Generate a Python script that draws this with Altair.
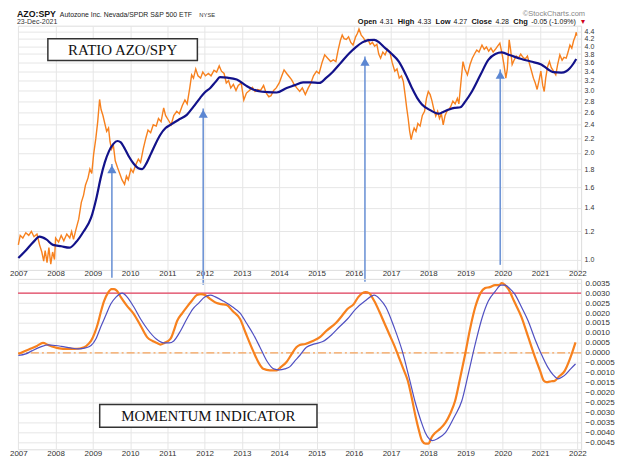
import altair as alt
import pandas as pd

# ---------------- data ----------------
ratio_year = [2007.00, 2007.05, 2007.12, 2007.20, 2007.28, 2007.35, 2007.42, 2007.50, 2007.57, 2007.63,
              2007.68, 2007.72, 2007.77, 2007.82, 2007.87, 2007.92, 2007.97, 2008.00, 2008.08, 2008.15,
              2008.22, 2008.30, 2008.38, 2008.43, 2008.48, 2008.55, 2008.62, 2008.69, 2008.75, 2008.80,
              2008.87, 2008.92, 2008.97, 2009.02, 2009.08, 2009.13, 2009.18, 2009.22, 2009.27, 2009.32,
              2009.37, 2009.42, 2009.46, 2009.50, 2009.55, 2009.60, 2009.66, 2009.72, 2009.78, 2009.85,
              2009.90, 2009.95, 2010.02, 2010.08, 2010.15, 2010.22, 2010.28, 2010.35, 2010.42, 2010.48,
              2010.55, 2010.62, 2010.70, 2010.76, 2010.83, 2010.90, 2010.95, 2011.02, 2011.10, 2011.17,
              2011.25, 2011.32, 2011.40, 2011.47, 2011.53, 2011.60, 2011.65, 2011.70, 2011.76, 2011.82,
              2011.89, 2011.95, 2012.02, 2012.10, 2012.17, 2012.25, 2012.32, 2012.39, 2012.45, 2012.52,
              2012.58, 2012.64, 2012.70, 2012.77, 2012.84, 2012.90, 2012.98, 2013.05, 2013.12, 2013.20,
              2013.28, 2013.35, 2013.42, 2013.50, 2013.58, 2013.65, 2013.72, 2013.78, 2013.85, 2013.92,
              2014.00, 2014.07, 2014.13, 2014.20, 2014.27, 2014.33, 2014.40, 2014.47, 2014.55, 2014.62,
              2014.70, 2014.78, 2014.85, 2014.92, 2015.00, 2015.07, 2015.15, 2015.22, 2015.30, 2015.38,
              2015.45, 2015.52, 2015.58, 2015.64, 2015.69, 2015.74, 2015.80, 2015.86, 2015.92, 2015.98,
              2016.05, 2016.10, 2016.14, 2016.20, 2016.26, 2016.32, 2016.38, 2016.44, 2016.50, 2016.56,
              2016.62, 2016.67, 2016.72, 2016.78, 2016.84, 2016.90, 2016.97, 2017.03, 2017.10, 2017.16,
              2017.22, 2017.28, 2017.33, 2017.38, 2017.42, 2017.46, 2017.50, 2017.54, 2017.58, 2017.62,
              2017.67, 2017.72, 2017.78, 2017.84, 2017.90, 2017.95, 2018.00, 2018.05, 2018.10, 2018.15,
              2018.20, 2018.25, 2018.30, 2018.35, 2018.40, 2018.45, 2018.50, 2018.55, 2018.60, 2018.66,
              2018.72, 2018.78, 2018.82, 2018.88, 2018.93, 2018.98, 2019.05, 2019.12, 2019.18, 2019.25,
              2019.30, 2019.36, 2019.44, 2019.50, 2019.56, 2019.62, 2019.68, 2019.74, 2019.80, 2019.86,
              2019.92, 2019.98, 2020.03, 2020.08, 2020.12, 2020.17, 2020.21, 2020.25, 2020.30, 2020.36,
              2020.42, 2020.48, 2020.54, 2020.60, 2020.66, 2020.72, 2020.77, 2020.82, 2020.87, 2020.92,
              2020.97, 2021.02, 2021.07, 2021.11, 2021.15, 2021.20, 2021.25, 2021.30, 2021.36, 2021.42,
              2021.47, 2021.53, 2021.59, 2021.64, 2021.70, 2021.75, 2021.80, 2021.85, 2021.90, 2021.94,
              2021.97, 2021.98]
ratio_val = [1.10, 1.17, 1.15, 1.19, 1.17, 1.20, 1.16, 1.18, 1.10, 1.05,
             0.99, 1.06, 0.98, 1.08, 0.97, 1.05, 1.00, 1.15, 1.12, 1.17,
             1.13, 1.18, 1.15, 1.20, 1.14, 1.22, 1.30, 1.45, 1.52, 1.62,
             1.70, 1.80, 1.75, 1.98, 2.20, 2.45, 2.83, 2.65, 2.55, 2.42,
             2.30, 2.35, 2.15, 2.05, 2.10, 1.90, 1.82, 1.75, 1.68, 1.63,
             1.72, 1.68, 1.80, 1.76, 1.85, 1.92, 1.88, 2.05, 2.20, 2.32,
             2.28, 2.40, 2.38, 2.50, 2.45, 2.68, 2.55, 2.48, 2.40, 2.55,
             2.62, 2.58, 2.72, 2.82, 2.75, 3.05, 3.32, 3.25, 3.45, 3.30,
             3.25, 3.38, 3.30, 3.35, 3.30, 3.42, 3.38, 3.52, 3.40, 3.35,
             3.15, 3.20, 3.05, 3.12, 3.00, 3.10, 3.15, 2.82, 2.95, 3.00,
             3.06, 2.98, 3.02, 3.00, 3.10, 2.95, 2.88, 2.90, 3.00, 3.05,
             3.15, 3.30, 3.43, 3.35, 3.28, 3.22, 3.12, 3.05, 2.98, 3.05,
             2.92, 3.05, 3.15, 3.30, 3.40, 3.35, 3.60, 3.78, 3.70, 3.62,
             3.66, 3.62, 3.90, 4.15, 4.30, 4.20, 4.18, 4.25, 4.10, 4.03,
             4.25, 4.35, 4.47, 4.30, 4.22, 4.12, 4.18, 4.05, 4.10, 4.00,
             4.05, 3.80, 3.70, 3.85, 3.78, 3.92, 3.85, 3.60, 3.40, 3.45,
             3.25, 3.30, 3.18, 2.90, 2.68, 2.50, 2.30, 2.18, 2.28, 2.35,
             2.30, 2.42, 2.38, 2.55, 2.62, 2.85, 2.98, 2.92, 2.80, 2.65,
             2.54, 2.62, 2.50, 2.58, 2.40, 2.55, 2.62, 2.65, 2.70, 2.80,
             2.75, 2.85, 2.75, 3.20, 3.62, 3.45, 3.32, 3.55, 3.70, 3.82,
             3.90, 3.85, 4.03, 3.92, 3.98, 3.87, 3.95, 3.85, 3.92, 4.00,
             4.08, 3.80, 3.55, 3.25, 3.45, 4.17, 3.90, 3.55, 3.65, 3.75,
             3.70, 3.80, 3.72, 3.68, 3.75, 3.55, 3.40, 3.25, 3.15, 3.02,
             3.20, 3.40, 3.10, 2.98, 3.25, 3.50, 3.62, 3.48, 3.40, 3.32,
             3.55, 3.78, 3.65, 3.72, 3.70, 3.85, 4.03, 3.95, 4.15, 4.25,
             4.38, 4.28]

ma_year = [2007.00, 2007.20, 2007.40, 2007.57, 2007.75, 2007.93, 2008.15, 2008.37, 2008.55, 2008.75,
           2008.95, 2009.10, 2009.21, 2009.32, 2009.43, 2009.55, 2009.66, 2009.75, 2009.84, 2009.97,
           2010.10, 2010.22, 2010.32, 2010.45, 2010.55, 2010.68, 2010.81, 2010.95, 2011.08, 2011.30,
           2011.52, 2011.70, 2011.88, 2012.00, 2012.15, 2012.30, 2012.41, 2012.60, 2012.86, 2013.10,
           2013.30, 2013.50, 2013.66, 2013.93, 2014.20, 2014.40, 2014.64, 2014.85, 2015.08, 2015.25,
           2015.44, 2015.66, 2015.88, 2016.05, 2016.23, 2016.40, 2016.55, 2016.68, 2016.81, 2017.00,
           2017.21, 2017.40, 2017.56, 2017.70, 2017.83, 2018.05, 2018.28, 2018.40, 2018.55, 2018.70,
           2018.86, 2019.00, 2019.17, 2019.40, 2019.61, 2019.80, 2019.97, 2020.20, 2020.50, 2020.75,
           2021.03, 2021.20, 2021.35, 2021.57, 2021.70, 2021.79, 2021.90, 2021.97]
ma_val = [1.01, 1.06, 1.12, 1.16, 1.14, 1.10, 1.09, 1.08, 1.12, 1.20,
          1.31, 1.50, 1.70, 1.88, 2.02, 2.12, 2.16, 2.14, 2.07, 1.95,
          1.86, 1.81, 1.80, 1.88, 1.98, 2.12, 2.25, 2.35, 2.40, 2.48,
          2.56, 2.70, 2.86, 2.96, 3.05, 3.18, 3.27, 3.26, 3.22, 3.10,
          3.02, 2.98, 2.97, 2.96, 3.05, 3.10, 3.16, 3.16, 3.15, 3.25,
          3.39, 3.60, 3.82, 3.97, 4.10, 4.16, 4.17, 4.10, 3.98, 3.82,
          3.62, 3.32, 3.05, 2.86, 2.74, 2.64, 2.58, 2.61, 2.65, 2.68,
          2.69, 2.80, 2.98, 3.32, 3.66, 3.80, 3.84, 3.77, 3.68, 3.62,
          3.55, 3.45, 3.38, 3.37, 3.40, 3.46, 3.58, 3.68]

mom_year = [2007.00, 2007.18, 2007.36, 2007.50, 2007.66, 2007.80, 2007.95, 2008.10, 2008.30, 2008.50,
            2008.65, 2008.77, 2008.88, 2008.95, 2009.05, 2009.13, 2009.22, 2009.30, 2009.40, 2009.50,
            2009.57, 2009.65, 2009.75, 2009.90, 2010.10, 2010.30, 2010.46, 2010.60, 2010.72, 2010.81,
            2010.92, 2011.08, 2011.17, 2011.26, 2011.40, 2011.52, 2011.65, 2011.79, 2011.90, 2012.01,
            2012.15, 2012.32, 2012.45, 2012.59, 2012.75, 2012.95, 2013.10, 2013.30, 2013.45, 2013.57,
            2013.75, 2013.93, 2014.05, 2014.19, 2014.32, 2014.46, 2014.55, 2014.70, 2014.90, 2015.10,
            2015.26, 2015.52, 2015.70, 2015.83, 2016.00, 2016.12, 2016.23, 2016.32, 2016.41, 2016.55,
            2016.68, 2016.82, 2016.95, 2017.08, 2017.21, 2017.33, 2017.45, 2017.55, 2017.66, 2017.75,
            2017.83, 2017.92, 2018.00, 2018.10, 2018.19, 2018.32, 2018.46, 2018.60, 2018.72, 2018.85,
            2018.99, 2019.12, 2019.26, 2019.40, 2019.52, 2019.65, 2019.79, 2019.90, 2019.97, 2020.06,
            2020.15, 2020.30, 2020.50, 2020.68, 2020.86, 2021.00, 2021.10, 2021.17, 2021.30, 2021.39,
            2021.50, 2021.66, 2021.80, 2021.95]
mom_val = [-0.00005, 0.0001, 0.00023, 0.00035, 0.0005, 0.0004, 0.0003, 0.00023, 0.0002, 0.0002,
           0.00022, 0.00028, 0.00045, 0.0006, 0.0010, 0.00145, 0.0021, 0.0026, 0.0030, 0.0032,
           0.0032, 0.0031, 0.0028, 0.0024, 0.00195, 0.0013, 0.00078, 0.0006, 0.0005, 0.00042,
           0.0005, 0.0007, 0.0011, 0.0016, 0.0020, 0.0023, 0.0026, 0.0029, 0.00295, 0.0029,
           0.0027, 0.0025, 0.00245, 0.0024, 0.0021, 0.0017, 0.0010, 0.0001, -0.0005, -0.0008,
           -0.00088, -0.00088, -0.0007, -0.00047, -0.0001, 0.00028, 0.0004, 0.00045, 0.0006, 0.0008,
           0.0011, 0.0015, 0.0019, 0.0022, 0.00245, 0.0028, 0.0030, 0.00305, 0.0030, 0.0026,
           0.0021, 0.0015, 0.00095, 0.0004, -0.00022, -0.0008, -0.0014, -0.0022, -0.0032, -0.0039,
           -0.0044, -0.00455, -0.00455, -0.0042, -0.0040, -0.0038, -0.0035, -0.0030, -0.0024, -0.0013,
           -0.00005, 0.0012, 0.0023, 0.0030, 0.00325, 0.0033, 0.0034, 0.0034, 0.0035, 0.0034,
           0.0032, 0.0026, 0.0018, 0.0008, -0.0002, -0.0009, -0.0014, -0.00147, -0.00142, -0.0014,
           -0.0012, -0.0009, -0.0003, 0.00053]

sig_year = [2007.00, 2007.20, 2007.36, 2007.60, 2007.80, 2008.00, 2008.15, 2008.40, 2008.60, 2008.80,
            2008.95, 2009.08, 2009.21, 2009.35, 2009.48, 2009.62, 2009.79, 2009.92, 2010.10, 2010.28,
            2010.46, 2010.70, 2010.90, 2011.05, 2011.17, 2011.35, 2011.52, 2011.68, 2011.84, 2012.00,
            2012.15, 2012.30, 2012.50, 2012.75, 2012.95, 2013.12, 2013.30, 2013.48, 2013.66, 2013.85,
            2014.01, 2014.15, 2014.28, 2014.42, 2014.55, 2014.73, 2014.95, 2015.17, 2015.40, 2015.61,
            2015.83, 2016.05, 2016.30, 2016.55, 2016.70, 2016.86, 2017.08, 2017.30, 2017.48, 2017.66,
            2017.80, 2017.92, 2018.02, 2018.10, 2018.25, 2018.46, 2018.70, 2018.90, 2019.08, 2019.26,
            2019.45, 2019.61, 2019.80, 2019.95, 2020.06, 2020.20, 2020.32, 2020.50, 2020.68, 2020.86,
            2021.03, 2021.20, 2021.35, 2021.48, 2021.60, 2021.70, 2021.82, 2021.95]
sig_val = [-0.00013, -0.00005, 0.0001, 0.0003, 0.0004, 0.00037, 0.00033, 0.00025, 0.0002, 0.00025,
           0.00037, 0.0007, 0.0013, 0.0019, 0.00245, 0.0028, 0.0030, 0.0028, 0.0023, 0.0017,
           0.0012, 0.0007, 0.0005, 0.0005, 0.0006, 0.0011, 0.0017, 0.0022, 0.0025, 0.0028,
           0.0029, 0.0028, 0.0026, 0.0023, 0.0020, 0.0015, 0.00095, 0.0003, -0.00038, -0.0008,
           -0.00085, -0.0008, -0.0007, -0.0004, -0.00013, 0.00028, 0.00045, 0.00057, 0.0009, 0.0013,
           0.0017, 0.0022, 0.0026, 0.0029, 0.0027, 0.0023, 0.0013, 0.0001, -0.0012, -0.00255,
           -0.0034, -0.0040, -0.0043, -0.0044, -0.0043, -0.0040, -0.0032, -0.0024, -0.0010, 0.00045,
           0.0018, 0.0026, 0.0031, 0.0034, 0.0034, 0.0032, 0.00295, 0.0023, 0.0016, 0.0007,
           -0.00005, -0.0007, -0.0011, -0.0013, -0.0012, -0.00105, -0.0008, -0.00055]

# annotation arrows (date, arrow tip value, arrow foot value on the log scale)
arrow_year = [2009.51, 2011.96, 2016.30, 2019.93]
arrow_tip = [1.86, 2.67, 3.74, 3.44]
arrow_base = [0.888, 0.849, 0.866, 0.966]

upper_level = [0.0030]
zero_level = [0.0]

half_year_grid = [2007, 2007.5, 2008, 2008.5, 2009, 2009.5, 2010, 2010.5, 2011, 2011.5, 2012, 2012.5,
                  2013, 2013.5, 2014, 2014.5, 2015, 2015.5, 2016, 2016.5, 2017, 2017.5, 2018, 2018.5,
                  2019, 2019.5, 2020, 2020.5, 2021, 2021.5, 2022]
price_ticks = [1.0, 1.2, 1.4, 1.6, 1.8, 2.0, 2.2, 2.4, 2.6, 2.8, 3.0, 3.2, 3.4, 3.6, 3.8, 4.0, 4.2, 4.4]
mom_ticks = [-0.0045, -0.0040, -0.0035, -0.0030, -0.0025, -0.0020, -0.0015, -0.0010, -0.0005, 0.0,
             0.0005, 0.0010, 0.0015, 0.0020, 0.0025, 0.0030, 0.0035]

header_segments = [("Open", "bold"), ("4.31", "normal"), ("High", "bold"), ("4.33", "normal"),
                   ("Low", "bold"), ("4.27", "normal"), ("Close", "bold"), ("4.28", "normal"),
                   ("Chg", "bold"), ("-0.05 (-1.09%)", "normal")]

# ---------------- frames ----------------
ratio_df = pd.DataFrame({"year": ratio_year, "value": ratio_val})
ma_df = pd.DataFrame({"year": ma_year, "value": ma_val})
mom_df = pd.DataFrame({"year": mom_year, "value": mom_val})
sig_df = pd.DataFrame({"year": sig_year, "value": sig_val})
arrow_df = pd.DataFrame({"year": arrow_year, "value": arrow_tip, "base": arrow_base})
upper_df = pd.DataFrame({"value": upper_level})
zero_df = pd.DataFrame({"value": zero_level})
one_row = pd.DataFrame({"k": [0]})

# ---------------- styling ----------------
SANS = "Liberation Sans"
SERIF = "Liberation Serif"
ORANGE = "#f7811e"
NAVY = "#12128a"
SIGNAL = "#5050c2"
ARROW = "#6f95d6"
GRID = "#e6e6e6"

W, H_TOP, H_BOT = 565, 245, 171

xscale = alt.Scale(domain=[2006.99, 2022.1], nice=False, zero=False)


def x_enc():
    return alt.X("year:Q", scale=xscale, title=None,
                 axis=alt.Axis(values=half_year_grid, format="d",
                               labelExpr="datum.value % 1 == 0 ? datum.label : ''",
                               grid=True, gridColor=GRID, domain=False, ticks=False,
                               labelPadding=0, labelFontSize=8, labelFont=SANS,
                               labelColor="#333", labelOverlap=False, labelFlush=False))


y_top = alt.Y("value:Q", title=None,
              scale=alt.Scale(type="log", domain=[0.935, 4.57], nice=False),
              axis=alt.Axis(orient="right", values=price_ticks, format=".1f", grid=True,
                            gridColor=GRID, domain=False, ticks=False, labelPadding=3,
                            labelFontSize=7, labelFont=SANS, labelColor="#333",
                            labelOverlap=False, labelFlush=False))

y_bot = alt.Y("value:Q", title=None,
              scale=alt.Scale(domain=[-0.004835, 0.003715], nice=False, zero=False),
              axis=alt.Axis(orient="right", values=mom_ticks, format=".4f", grid=True,
                            gridColor=GRID, domain=False, ticks=False, labelPadding=4,
                            labelFontSize=8, labelFont=SANS, labelColor="#333",
                            labelOverlap=False, labelFlush=False))

# ---------------- top panel ----------------
ratio_line = alt.Chart(ratio_df).mark_line(color=ORANGE, strokeWidth=1.4).encode(x=x_enc(), y=y_top)
ma_line = alt.Chart(ma_df).mark_line(color=NAVY, strokeWidth=2.2, interpolate="monotone").encode(x=x_enc(), y=y_top)
arrow_rule = alt.Chart(arrow_df).mark_rule(color=ARROW, strokeWidth=1.6).encode(
    x=x_enc(), y=y_top, y2="base:Q")
arrow_head = alt.Chart(arrow_df).mark_point(shape="triangle-up", filled=True, opacity=1,
                                            color="#5b86d2", size=85, yOffset=5.3).encode(
    x=x_enc(), y=y_top)

box_top = alt.Chart(one_row).mark_rect(fill="white", stroke="#333", strokeWidth=1.5).encode(
    x=alt.value(30), x2=alt.value(180), y=alt.value(13), y2=alt.value(35))
box_top_text = alt.Chart(one_row).mark_text(text="RATIO AZO/SPY", font=SERIF, fontSize=15,
                                            color="#111", align="center", baseline="middle").encode(
    x=alt.value(105), y=alt.value(24.5))

hdr = []
hdr.append(alt.Chart(one_row).mark_text(text="AZO:SPY", font=SANS, fontSize=8.8, fontWeight="bold",
                                        color="#111", align="left", baseline="middle").encode(
    x=alt.value(-1), y=alt.value(-11.5)))
hdr.append(alt.Chart(one_row).mark_text(text="Autozone Inc. Nevada/SPDR S&P 500 ETF", font=SANS,
                                        fontSize=6.9, color="#222", align="left",
                                        baseline="middle").encode(x=alt.value(42), y=alt.value(-11)))
hdr.append(alt.Chart(one_row).mark_text(text="NYSE", font=SANS, fontSize=5.8, color="#333",
                                        align="left", baseline="middle").encode(
    x=alt.value(182), y=alt.value(-11)))
hdr.append(alt.Chart(one_row).mark_text(text="23-Dec-2021", font=SANS, fontSize=7, color="#333",
                                        align="left", baseline="middle").encode(
    x=alt.value(-1), y=alt.value(-3.5)))
hdr.append(alt.Chart(one_row).mark_text(text="\u00a9StockCharts.com", font=SANS, fontSize=7.5,
                                        color="#888", align="right", baseline="middle").encode(
    x=alt.value(569), y=alt.value(-12)))
seg_x = [341, 363, 381, 401, 419, 437, 455, 479, 497, 515]
for (txt, wt), sx in zip(header_segments, seg_x):
    hdr.append(alt.Chart(one_row).mark_text(text=txt, font=SANS, fontSize=7.5 if wt == "bold" else 7,
                                            fontWeight=wt, color="#111", align="left",
                                            baseline="middle").encode(
        x=alt.value(sx), y=alt.value(-3.5)))
hdr.append(alt.Chart(one_row).mark_text(text="\u25be", font="DejaVu Sans", fontSize=8, color="#d0021b",
                                        align="left", baseline="middle").encode(
    x=alt.value(565), y=alt.value(-3.5)))

top = alt.layer(ratio_line, ma_line, box_top, box_top_text, arrow_rule, arrow_head, *hdr).properties(
    width=W, height=H_TOP)

# ---------------- bottom panel ----------------
mom_line = alt.Chart(mom_df).mark_line(color=ORANGE, strokeWidth=2.2, interpolate="monotone").encode(
    x=x_enc(), y=y_bot)
sig_line = alt.Chart(sig_df).mark_line(color=SIGNAL, strokeWidth=1.2, interpolate="monotone").encode(
    x=x_enc(), y=y_bot)
upper_rule = alt.Chart(upper_df).mark_rule(color="#e3405e", strokeWidth=1.2).encode(y=y_bot)
zero_rule = alt.Chart(zero_df).mark_rule(color="#f5a25a", strokeWidth=1.2,
                                         strokeDash=[8, 3, 2, 3]).encode(y=y_bot)
box_bot = alt.Chart(one_row).mark_rect(fill="white", stroke="#333", strokeWidth=1.5).encode(
    x=alt.value(82), x2=alt.value(300), y=alt.value(126), y2=alt.value(149))
box_bot_text = alt.Chart(one_row).mark_text(text="MOMENTUM INDICATOR", font=SERIF, fontSize=15,
                                            color="#111", align="center", baseline="middle").encode(
    x=alt.value(191), y=alt.value(138))

bottom = alt.layer(upper_rule, zero_rule, mom_line, sig_line, box_bot, box_bot_text).properties(
    width=W, height=H_BOT)

chart = alt.vconcat(top, bottom, spacing=9, bounds="flush").properties(
    padding={"left": 0, "top": 0, "right": 0, "bottom": 0}
).configure_view(stroke="#b8b8b8", strokeWidth=1).configure(background="white")

chart.save("out.html", embed_options={"renderer": "svg", "actions": False})
